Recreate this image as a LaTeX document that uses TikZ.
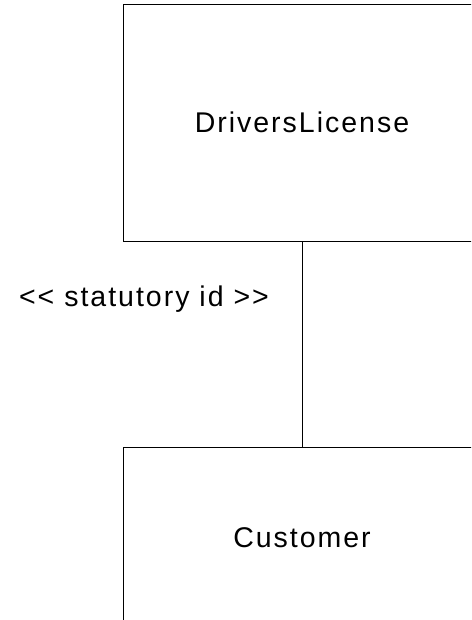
\documentclass[tikz,border=0pt]{standalone}
\usepackage{fontspec}
\setmainfont{Liberation Sans}[LetterSpace=7]
\begin{document}
\begin{tikzpicture}[x=1pt,y=1pt,
  classbox/.style={draw=black, line width=0.9pt, minimum width=358pt, inner sep=0pt, font=\fontsize{28.5}{32}\selectfont},
  assoc/.style={draw=black, line width=0.9pt},
  stereo/.style={font=\fontsize{28.5}{32}\selectfont, inner sep=0pt}]
  \useasboundingbox (0,0) rectangle (471,620);
  \clip (0,0) rectangle (471,620);
  \node[classbox, minimum height=237pt] (lic) at (302,497.5) {DriversLicense};
  \node[classbox, minimum height=181pt] (cust) at (302,82.5) {Customer};
  \draw[assoc] (lic.south) -- (cust.north);
  \node[stereo, anchor=base] (lbl) at (144,313) {{<}{<} statutory id {>}{>}};
\end{tikzpicture}
\end{document}
